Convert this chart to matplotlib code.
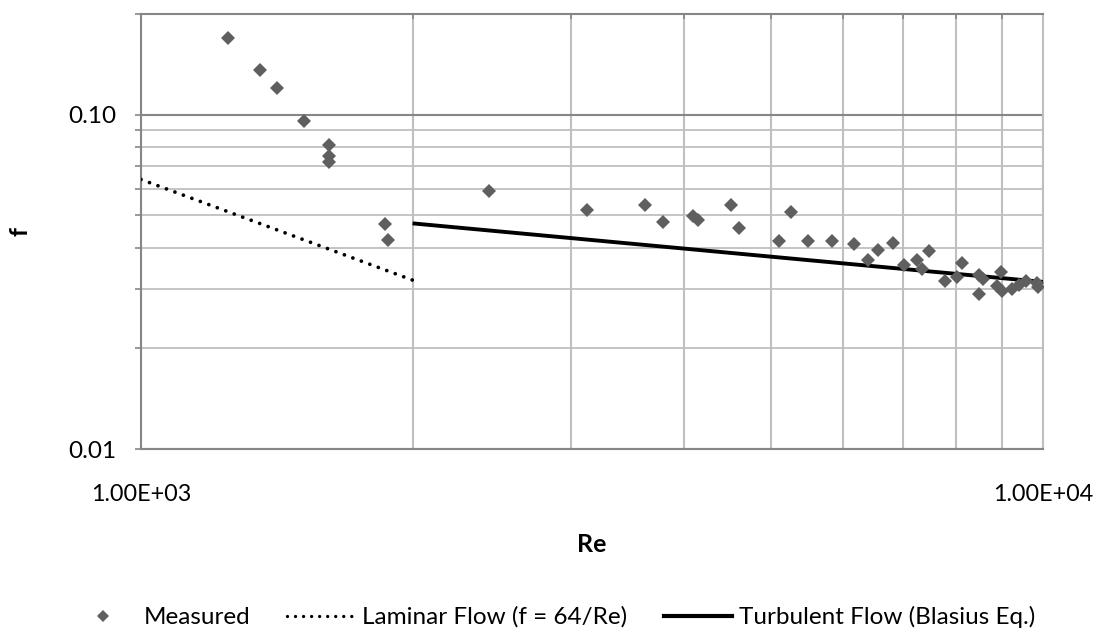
import numpy as np
import matplotlib
matplotlib.use("Agg")
import matplotlib.pyplot as plt
import matplotlib.ticker as mtick
from matplotlib.lines import Line2D

plt.rcParams.update({"font.family": ["Lato", "DejaVu Sans"], "font.size": 17.5})

# measured friction factor vs Reynolds number
re_measured = [1248, 1356, 1415, 1516, 1616, 1616, 1616, 1865, 1880, 2433,
               3120, 3622, 3787, 4090, 4150, 4506, 4606, 5097, 5260, 5483,
               5832, 6172, 6403, 6569, 6818, 7014, 7244, 7347, 7474, 7788,
               8022, 8133, 8486, 8500, 8574, 8899, 8984, 9014, 9232, 9413,
               9576, 9856, 9880]
f_measured = [0.170, 0.1364, 0.120, 0.0955, 0.0809, 0.0754, 0.0722, 0.0471, 0.0422, 0.0592,
              0.0520, 0.0538, 0.0477, 0.0496, 0.0485, 0.0535, 0.0458, 0.0420, 0.0510, 0.0420,
              0.0419, 0.0410, 0.0367, 0.0393, 0.0414, 0.0356, 0.0368, 0.0346, 0.0392, 0.0318,
              0.0327, 0.0360, 0.0291, 0.0332, 0.0322, 0.0307, 0.0338, 0.0297, 0.0301, 0.0309,
              0.0319, 0.0313, 0.0305]

# theory lines (straight in log-log, so endpoints are enough)
re_laminar = [1000, 2000]
f_laminar = [0.064, 0.032]
re_turb = [2000, 10000]
f_turb = [0.0473, 0.0316]

y_major = [0.01, 0.1]
y_major_labels = ["0.01", "0.10"]
x_major = [1000, 10000]
x_major_labels = ["1.00E+03", "1.00E+04"]

DARK = "#868686"
LIGHT = "#bfbfbf"
MARK = "#5f5f5f"
DOTS = (0, (0.01, 2.4))

fig = plt.figure(figsize=(10.96, 6.28), dpi=100)
ax = fig.add_axes([141/1096, 1 - 449/628, 902/1096, 435/628])

ax.set_xscale("log")
ax.set_yscale("log")
ax.set_xlim(1000, 10000)
ax.set_ylim(0.01, 0.2)

ax.plot(re_laminar, f_laminar, color="black", lw=2.7, linestyle=DOTS,
        dash_capstyle="round", zorder=3)
ax.plot(re_turb, f_turb, color="black", lw=2.8, solid_capstyle="butt", zorder=3)
ax.plot(re_measured, f_measured, linestyle="none", marker="D", ms=7,
        color=MARK, markeredgewidth=0, zorder=4)

# ticks
ax.yaxis.set_major_locator(mtick.FixedLocator(y_major))
ax.yaxis.set_major_formatter(mtick.FixedFormatter(y_major_labels))
ax.yaxis.set_minor_locator(mtick.LogLocator(base=10, subs=np.arange(2, 10)))
ax.yaxis.set_minor_formatter(mtick.NullFormatter())
ax.xaxis.set_major_locator(mtick.FixedLocator(x_major))
ax.xaxis.set_major_formatter(mtick.FixedFormatter(x_major_labels))
ax.xaxis.set_minor_locator(mtick.LogLocator(base=10, subs=np.arange(2, 10)))
ax.xaxis.set_minor_formatter(mtick.NullFormatter())

ax.tick_params(axis="y", which="both", left=True, right=False, direction="out",
               length=4.5, width=1.2, color=DARK, pad=13, labelsize=17.5)
ax.tick_params(axis="x", which="both", bottom=False, top=True, direction="in",
               length=3.8, width=1.2, color=DARK, pad=25, labelsize=16.8)

# gridlines
ax.grid(which="major", axis="y", color=DARK, lw=1.5, zorder=0)
ax.grid(which="minor", axis="y", color=LIGHT, lw=1.3, zorder=0)
ax.grid(which="both", axis="x", color=LIGHT, lw=1.5, zorder=0)
ax.set_axisbelow(True)

for side in ["left", "bottom", "top"]:
    ax.spines[side].set_color(DARK)
    ax.spines[side].set_linewidth(1.5)
ax.spines["right"].set_color(LIGHT)
ax.spines["right"].set_linewidth(1.5)

ax.set_xlabel("Re", fontweight="bold", fontsize=18)
ax.xaxis.set_label_coords(0.5, 1 - (544 - 14) / 435, transform=ax.transAxes)
ax.xaxis.label.set_va("center")
ax.set_ylabel("f", fontweight="bold", fontsize=18)
ax.yaxis.set_label_coords((20 - 141) / 902, 0.5, transform=ax.transAxes)
ax.yaxis.label.set_va("center")

handles = [
    Line2D([], [], linestyle="none", marker="D", ms=6, color=MARK, markeredgewidth=0),
    Line2D([], [], color="black", lw=2.4, linestyle=DOTS, dash_capstyle="round"),
    Line2D([], [], color="black", lw=3),
]
labels = ["Measured", "Laminar Flow (f = 64/Re)", "Turbulent Flow (Blasius Eq.)"]
fig.legend(handles, labels, loc="center", bbox_to_anchor=(552/1096, 1 - 617/628),
           ncol=3, frameon=False, fontsize=17.5, handlelength=2.8,
           handletextpad=0.3, columnspacing=1.5)

fig.savefig("out.png", dpi=100, facecolor="white")
